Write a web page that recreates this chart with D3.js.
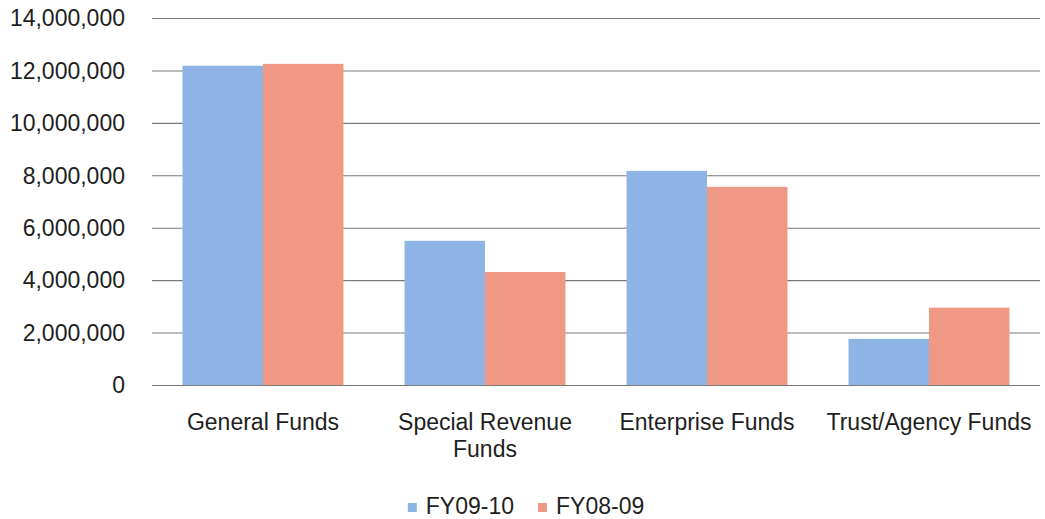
<!DOCTYPE html>
<html>
<head>
<meta charset="utf-8">
<script src="https://cdn.jsdelivr.net/npm/d3@7"></script>
<style>
  body { margin: 0; background: #fff; }
  text { font-family: "Liberation Sans", Arial, sans-serif; fill: #1e1e1e; }
</style>
</head>
<body>
<svg id="svg" width="1045" height="519"></svg>
<script>
const categories = ['General Funds', 'Special Revenue Funds', 'Enterprise Funds', 'Trust/Agency Funds']
const seriesNames = ['FY09-10', 'FY08-09']
const fy0910 = [12180000, 5500000, 8170000, 1760000]
const fy0809 = [12250000, 4310000, 7560000, 2950000]
const yTicks = [0, 2000000, 4000000, 6000000, 8000000, 10000000, 12000000, 14000000]
const colors = ['#8db4e5', '#ef9884']

const $svg = d3.select('#svg')

const plotLeft = 152, plotRight = 1040, plotTop = 18, plotBottom = 385
const fontSize = 23

const scaleX = d3.scaleBand()
	.domain(categories)
	.range([plotLeft, plotRight])
	.paddingInner(0.275)
	.paddingOuter(0.1375)

const scaleInner = d3.scaleBand()
	.domain(seriesNames)
	.range([0, scaleX.bandwidth()])

const scaleY = d3.scaleLinear()
	.domain([0, 14000000])
	.range([plotBottom, plotTop])

// gridlines
$svg.append('g')
	.selectAll('line')
	.data(yTicks)
	.join('line')
	.attr('x1', plotLeft)
	.attr('x2', plotRight)
	.attr('y1', d => scaleY(d) + 0.5)
	.attr('y2', d => scaleY(d) + 0.5)
	.attr('stroke', '#7a7a7a')
	.attr('stroke-width', 1.1)

// y labels
const fmt = d3.format(',')
$svg.append('g')
	.selectAll('text')
	.data(yTicks)
	.join('text')
	.attr('x', 125)
	.attr('y', d => scaleY(d))
	.attr('dy', '0.36em')
	.attr('text-anchor', 'end')
	.attr('font-size', fontSize)
	.text(d => fmt(d))

// bars
const rows = categories.map((c, i) => ({ cat: c, values: [fy0910[i], fy0809[i]] }))
const $groups = $svg.append('g')
	.selectAll('g')
	.data(rows)
	.join('g')
	.attr('transform', d => `translate(${scaleX(d.cat)},0)`)

$groups.selectAll('rect')
	.data(d => d.values.map((v, j) => ({ name: seriesNames[j], v, j })))
	.join('rect')
	.attr('x', d => scaleInner(d.name))
	.attr('width', scaleInner.bandwidth())
	.attr('y', d => scaleY(d.v))
	.attr('height', d => scaleY(0) - scaleY(d.v))
	.attr('fill', d => colors[d.j])

// category labels, wrapped
const $labels = $svg.append('g')
	.selectAll('text')
	.data(categories)
	.join('text')
	.attr('text-anchor', 'middle')
	.attr('font-size', fontSize)
	.attr('x', d => scaleX(d) + scaleX.bandwidth() / 2)
	.attr('y', 430)

$labels.each(function (d) {
	const $t = d3.select(this)
	const words = d.split(' ')
	let line = []
	let $span = $t.append('tspan').attr('x', $t.attr('x')).attr('dy', 0)
	words.forEach(w => {
		line.push(w)
		$span.text(line.join(' '))
		if ($span.node().getComputedTextLength() > 218 && line.length > 1) {
			line.pop()
			$span.text(line.join(' '))
			line = [w]
			$span = $t.append('tspan').attr('x', $t.attr('x')).attr('dy', 27).text(w)
		}
	})
})

// legend
const $legend = $svg.append('g')
let lx = 0
seriesNames.forEach((name, i) => {
	const $g = $legend.append('g')
	$g.append('rect')
		.attr('x', 0).attr('y', -11)
		.attr('width', 9).attr('height', 9)
		.attr('fill', colors[i])
	const $t = $g.append('text')
		.attr('x', 18).attr('y', 0)
		.attr('font-size', fontSize)
		.text(name)
	const w = 18 + $t.node().getComputedTextLength()
	$g.attr('transform', `translate(${lx},0)`)
	lx += w + 24
})
const legendWidth = lx - 24
$legend.attr('transform', `translate(${526 - legendWidth / 2},514)`)
</script>
</body>
</html>
